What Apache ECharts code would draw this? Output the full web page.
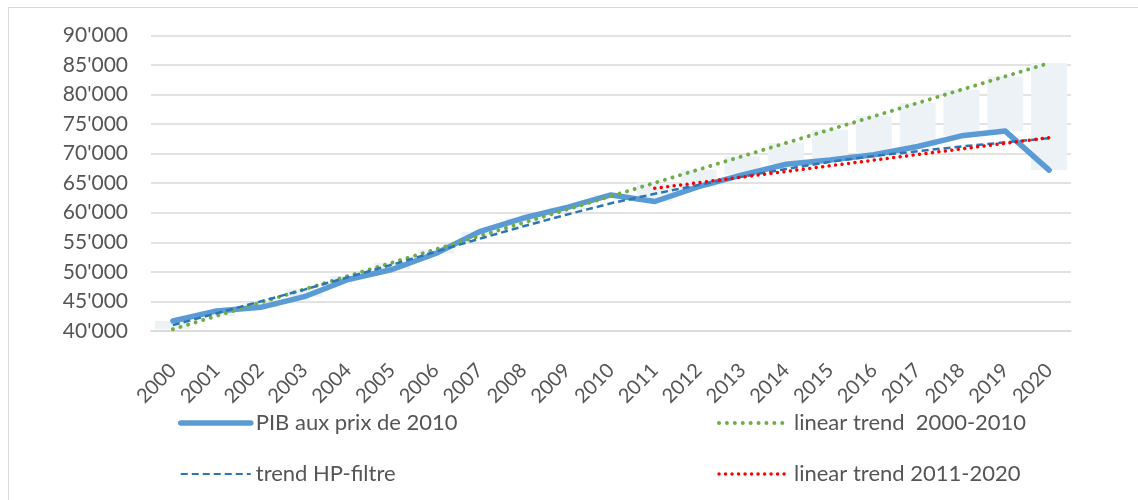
<!DOCTYPE html>
<html>
<head>
<meta charset="utf-8">
<script src="https://cdn.jsdelivr.net/npm/echarts@6/dist/echarts.min.js"></script>
<style>
  html, body { margin: 0; padding: 0; background: #fff; }
  #chart { width: 1138px; height: 500px; }
</style>
</head>
<body>
<div id="chart"></div>
<script>
// Years on the category axis
const years = ['2000','2001','2002','2003','2004','2005','2006','2007','2008','2009','2010',
               '2011','2012','2013','2014','2015','2016','2017','2018','2019','2020'];

// Real GDP (prices of 2010)
const pib = [41700, 43400, 44000, 45800, 48700, 50400, 53100, 56800, 59100, 60900, 63000,
             61900, 64400, 66400, 68200, 68900, 69800, 71200, 73000, 73800, 67200];

// Hodrick-Prescott trend
const hpTrend = [41000, 43000, 45000, 47000, 49100, 51200, 53400, 55600, 57700, 59700, 61600,
                 63200, 64700, 66100, 67400, 68600, 69600, 70400, 71200, 71900, 72600];

// Linear trend fitted on 2000-2010, extended to 2020
const trend0010 = [40300, 42550, 44800, 47050, 49300, 51550, 53800, 56050, 58300, 60550, 62800,
                   65050, 67300, 69550, 71800, 74050, 76300, 78550, 80800, 83050, 85300];

// Linear trend fitted on 2011-2020
const trend1120 = [null, null, null, null, null, null, null, null, null, null, null,
                   64130, 65080, 66030, 66980, 67940, 68890, 69840, 70790, 71740, 72690];

// Shaded gap between GDP and the 2000-2010 trend: invisible base + visible height
const gapBase = pib.map((v, i) => Math.min(v, trend0010[i]));
const gapSize = pib.map((v, i) => Math.abs(trend0010[i] - v));

const yTicks = { min: 40000, max: 90000, interval: 5000 };

const fmt = v => {
  const s = String(Math.round(v));
  return s.replace(/\B(?=(\d{3})+(?!\d))/g, "'");
};

const FONT = 'Lato';
const TXT = '#555555';

const chart = echarts.init(document.getElementById('chart'), null, { renderer: 'canvas' });

const legendCommon = {
  orient: 'vertical',
  top: 412,
  padding: 0,
  itemWidth: 70, itemHeight: 14, itemGap: 29,
  itemStyle: { opacity: 0 },
  textStyle: { fontSize: 22, fontFamily: FONT, color: TXT }
};

chart.setOption({
  animation: false,
  backgroundColor: '#fff',
  textStyle: { fontFamily: FONT, color: TXT },
  graphic: [{
    type: 'rect',
    left: 6, top: 5,
    shape: { width: 1140, height: 500 },
    style: { fill: 'none', stroke: '#d9d9d9', lineWidth: 1 },
    silent: true
  }],
  grid: { left: 151, right: 67, top: 35.3, bottom: 169, containLabel: false },
  xAxis: {
    type: 'category',
    data: years,
    boundaryGap: true,
    axisLine: { show: true, lineStyle: { color: '#d9d9d9', width: 1.5 } },
    axisTick: { show: false },
    axisLabel: {
      rotate: 45, fontSize: 20, fontFamily: FONT, color: TXT,
      margin: 36, interval: 0
    }
  },
  yAxis: {
    type: 'value',
    min: yTicks.min, max: yTicks.max, interval: yTicks.interval,
    axisLine: { show: false },
    axisTick: { show: false },
    splitLine: { lineStyle: { color: '#d9d9d9', width: 1.5 } },
    axisLabel: { fontSize: 21, fontFamily: FONT, color: TXT, margin: 23, formatter: fmt }
  },
  legend: [
    Object.assign({}, legendCommon, {
      left: 178,
      data: [
        { name: 'PIB aux prix de 2010', lineStyle: { width: 5.5, cap: 'round' } },
        { name: 'trend HP-filtre' }
      ]
    }),
    Object.assign({}, legendCommon, {
      left: 717,
      data: [
        { name: 'linear trend  2000-2010', lineStyle: { width: 4 } },
        { name: 'linear trend 2011-2020', lineStyle: { width: 3.5 } }
      ]
    })
  ],
  series: [
    {
      name: 'gapBase', type: 'bar', stack: 'gap', data: gapBase,
      barWidth: '82%', itemStyle: { color: 'rgba(0,0,0,0)' }, silent: true, z: 1
    },
    {
      name: 'gap', type: 'bar', stack: 'gap', data: gapSize,
      barWidth: '82%', itemStyle: { color: '#edf2f7' }, silent: true, z: 1
    },
    {
      name: 'PIB aux prix de 2010', type: 'line', data: pib,
      symbol: 'none', lineStyle: { color: '#5b9bd5', width: 5.5, cap: 'round', join: 'round' },
      itemStyle: { color: '#5b9bd5' }, z: 3
    },
    {
      name: 'linear trend  2000-2010', type: 'line', data: trend0010,
      symbol: 'none',
      lineStyle: { color: '#70ad47', width: 4, type: [0.01, 7.9], cap: 'round' },
      itemStyle: { color: '#70ad47' }, z: 4
    },
    {
      name: 'trend HP-filtre', type: 'line', data: hpTrend,
      symbol: 'none',
      lineStyle: { color: '#2e75b6', width: 2.5, type: [7, 4] },
      itemStyle: { color: '#2e75b6' }, z: 5
    },
    {
      name: 'linear trend 2011-2020', type: 'line', data: trend1120,
      symbol: 'none',
      lineStyle: { color: '#ff0000', width: 3.5, type: [0.01, 6.5], cap: 'round' },
      itemStyle: { color: '#ff0000' }, z: 6
    }
  ]
});
</script>
</body>
</html>
